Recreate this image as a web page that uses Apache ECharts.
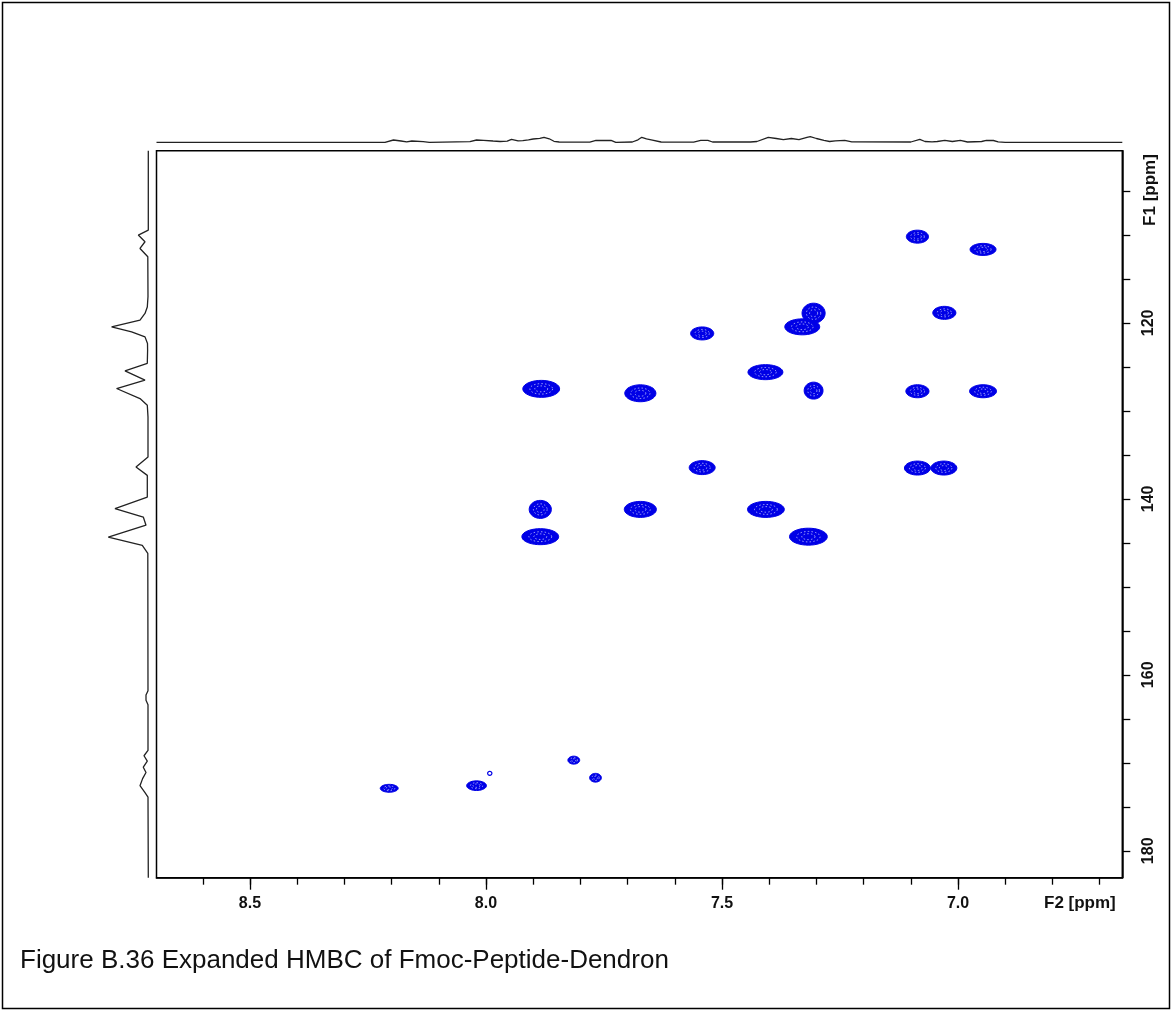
<!DOCTYPE html>
<html>
<head>
<meta charset="utf-8">
<title>Expanded HMBC of Fmoc-Peptide-Dendron</title>
<script src="https://cdn.jsdelivr.net/npm/echarts@6/dist/echarts.min.js"></script>
<style>
  html, body { margin: 0; padding: 0; background: #fff; }
  #chart { width: 1173px; height: 1012px; }
</style>
</head>
<body>
<div id="chart"></div>
<script>
// F2 (1H) axis ticks and labels, ppm
const f2Ticks = [6.7, 6.8, 6.9, 7.0, 7.1, 7.2, 7.3, 7.4, 7.5, 7.6, 7.7, 7.8, 7.9, 8.0, 8.1, 8.2, 8.3, 8.4, 8.5, 8.6];
const f2Labels = [7.0, 7.5, 8.0, 8.5];
// F1 (13C) axis ticks and labels, ppm
const f1Ticks = [105, 110, 115, 120, 125, 130, 135, 140, 145, 150, 155, 160, 165, 170, 175, 180];
const f1Labels = [120, 140, 160, 180];
const f2Range = [6.652, 8.698];
const f1Range = [100.43, 183.06];

// HMBC cross peaks: F2 shift, F1 shift, line width in F2 and F1 (ppm)
const peakF2 = [7.542, 7.306, 7.330, 7.408, 7.883, 7.673, 7.306, 7.542, 7.885, 7.673, 7.407, 7.885, 7.317,
                7.086, 6.947, 7.029, 7.086, 6.947, 7.086, 7.030, 7.814, 7.768, 7.992, 8.205, 8.020];
const peakF1 = [121.2, 118.9, 120.45, 125.6, 127.5, 128.0, 127.7, 136.45, 141.2, 141.2, 141.2, 144.3, 144.3,
                110.2, 111.65, 118.86, 127.77, 127.77, 136.5, 136.5, 169.7, 171.7, 171.2, 172.9, 172.6];
const peakWidthF2 = [0.049, 0.049, 0.074, 0.074, 0.078, 0.066, 0.040, 0.055, 0.047, 0.068, 0.078, 0.078, 0.080,
                     0.047, 0.055, 0.049, 0.049, 0.057, 0.055, 0.055, 0.025, 0.025, 0.009, 0.038, 0.042];
const peakWidthF1 = [1.48, 2.28, 1.82, 1.71, 1.93, 1.93, 1.93, 1.59, 2.05, 1.82, 1.82, 1.82, 1.93,
                     1.48, 1.37, 1.48, 1.48, 1.48, 1.59, 1.59, 0.91, 1.0, 0.45, 0.9, 1.1];

// 1D projection along F2 (top trace): shift, intensity
const projF2ppm = [8.698, 8.214, 8.196, 8.18, 8.168, 8.157, 8.133, 8.12, 8.034, 8.02, 8.005, 7.985, 7.97, 7.955, 7.946,
                   7.932, 7.922, 7.91, 7.90, 7.886, 7.877, 7.866, 7.856, 7.845, 7.78, 7.767, 7.75, 7.735, 7.725, 7.69,
                   7.678, 7.67, 7.66, 7.65, 7.629, 7.56, 7.545, 7.53, 7.52, 7.44, 7.426, 7.402, 7.385, 7.37, 7.353,
                   7.337, 7.32, 7.313, 7.30, 7.284, 7.272, 7.26, 7.24, 7.225, 7.10, 7.081, 7.07, 7.055, 7.044, 7.028,
                   7.012, 6.995, 6.98, 6.95, 6.94, 6.925, 6.915, 6.9, 6.652];
const projF2int = [0, 0, 2.3, 1.3, 0.5, 1.3, 0.7, 0, 0.7, 2.3, 2, 1.3, 0.8, 1.2, 3,
                   1.5, 1.7, 2.5, 3.3, 4, 5, 3.5, 1, 0.3, 0.2, 2, 1.8, 2, 0, 0.3,
                   2.5, 5, 3.5, 2.5, 0.3, 0.2, 2, 2, 0.3, 0.3, 0.8, 5, 3.8, 2.7, 3.8,
                   2.7, 5, 5.7, 3.8, 1.9, 0.8, 1.5, 2, 0.5, 0.3, 3, 0.8, 0.5, 0.8, 2,
                   0.8, 2, 0.3, 0.8, 2, 1.8, 0.5, 0, 0];

// 1D projection along F1 (left trace): shift, intensity
const projF1ppm = [100.43, 109.45, 110.02, 110.78, 111.54, 112.49, 117.0, 118.2, 118.93, 119.69, 120.46, 121.02, 121.59,
                   122.34, 123.1, 124.6, 125.46, 126.5, 127.46, 128.6, 129.36, 130.7, 135.24, 136.38, 137.33, 139.8,
                   141.1, 142.07, 143.0, 144.35, 145.3, 146.2, 161.8, 162.3, 162.9, 163.4, 168.6, 169.2, 169.8, 170.5,
                   171.1, 171.8, 172.6, 173.4, 173.9, 183.06];
const projF1int = [0, 0, 10, 3.3, 8.3, 0.5, 0.3, 1, 3.3, 8.3, 36.7, 16.7, 3.3,
                   0.8, 0.7, 1, 23.3, 3.3, 31.7, 8.3, 1, 0.3, 0.3, 12.3, 1, 1,
                   33.3, 5, 2.3, 40, 6, 0.5, 0.3, 2.3, 2.3, 0.3, 0.3, 4.3, 1, 5,
                   2.3, 5.7, 8.3, 3.3, 0.3, 0];

const FONT = '"Liberation Sans", Arial, Helvetica, sans-serif';
const INK = '#111';
const PEAK_BLUE = '#0000e6';

const peakData = peakF2.map((x, i) => [x, peakF1[i], peakWidthF2[i], peakWidthF1[i]]);
const topTrace = projF2ppm.map((x, i) => [x, projF2int[i]]);
const leftTrace = projF1ppm.map((y, i) => [projF1int[i], y]);

// closed ellipse outline as a point list
function ellipsePoints(cx, cy, rx, ry, n) {
  const pts = [];
  for (let k = 0; k < n; k++) {
    const a = (k / n) * Math.PI * 2;
    pts.push([cx + rx * Math.cos(a), cy + ry * Math.sin(a)]);
  }
  return pts;
}

// one contour blob: filled outer level with lighter inner contour levels
function renderPeak(params, api) {
  const c = api.coord([api.value(0), api.value(1)]);
  const s = api.size([api.value(2), api.value(3)]);
  const rx = Math.abs(s[0]) / 2, ry = Math.abs(s[1]) / 2;
  if (rx < 3) {
    return {
      type: 'polygon',
      shape: { points: ellipsePoints(c[0], c[1], rx, ry, 16) },
      style: { fill: 'none', stroke: PEAK_BLUE, lineWidth: 1.2 }
    };
  }
  const children = [{
    type: 'polygon',
    shape: { points: ellipsePoints(c[0], c[1], rx, ry, 40) },
    style: { fill: PEAK_BLUE, stroke: PEAK_BLUE, lineWidth: 1 }
  }];
  [0.62, 0.35].forEach(k => {
    children.push({
      type: 'polygon',
      shape: { points: ellipsePoints(c[0], c[1], rx * k, ry * k, 28) },
      style: { fill: 'none', stroke: '#dfe3ff', lineWidth: 0.8, lineDash: [1.5, 2.2], opacity: 0.85 }
    });
  });
  return { type: 'group', children };
}

const chart = echarts.init(document.getElementById('chart'), null, { renderer: 'canvas' });

const tickLabelStyle = { color: INK, fontFamily: FONT, fontWeight: 'bold', fontSize: 16 };

chart.setOption({
  backgroundColor: '#fff',
  animation: false,
  grid: [
    { left: 156.5, right: 50.7, top: 150.7, bottom: 134.3, show: true, borderColor: '#000', borderWidth: 1.5, backgroundColor: 'transparent' },
    { left: 156.5, right: 50.7, top: 120, height: 22.3 },
    { left: 100, width: 48.3, top: 150.7, bottom: 134.3 }
  ],
  xAxis: [
    {
      gridIndex: 0, type: 'value', min: f2Range[0], max: f2Range[1], inverse: true,
      axisLine: { show: true, onZero: false, lineStyle: { color: '#000', width: 1.5 } },
      axisTick: { show: true, length: 7, customValues: f2Ticks, lineStyle: { color: '#000', width: 1.3 } },
      axisLabel: { show: false },
      splitLine: { show: false }
    },
    {
      gridIndex: 0, type: 'value', min: f2Range[0], max: f2Range[1], inverse: true, position: 'bottom',
      axisLine: { show: false },
      axisTick: { show: true, length: 12, customValues: f2Labels, lineStyle: { color: '#000', width: 1.3 } },
      axisLabel: Object.assign({ show: true, margin: 18, customValues: f2Labels, formatter: v => v.toFixed(1) }, tickLabelStyle),
      splitLine: { show: false }
    },
    {
      gridIndex: 1, type: 'value', min: f2Range[0], max: f2Range[1], inverse: true, show: false
    },
    {
      gridIndex: 2, type: 'value', min: 0, max: 48.3, inverse: true, show: false
    }
  ],
  yAxis: [
    {
      gridIndex: 0, type: 'value', min: f1Range[0], max: f1Range[1], inverse: true, position: 'right',
      axisLine: { show: true, onZero: false, lineStyle: { color: '#000', width: 1.5 } },
      axisTick: { show: true, length: 8, customValues: f1Ticks, lineStyle: { color: '#000', width: 1.3 } },
      axisLabel: Object.assign({ show: true, margin: 18, rotate: 90, customValues: f1Labels }, tickLabelStyle),
      splitLine: { show: false }
    },
    { gridIndex: 1, type: 'value', min: 0, max: 22.3, show: false },
    { gridIndex: 2, type: 'value', min: f1Range[0], max: f1Range[1], inverse: true, show: false }
  ],
  series: [
    {
      name: 'HMBC', type: 'custom', xAxisIndex: 0, yAxisIndex: 0,
      renderItem: renderPeak, data: peakData, encode: { x: 0, y: 1 }, silent: true
    },
    {
      name: 'F2 projection', type: 'line', xAxisIndex: 2, yAxisIndex: 1, data: topTrace,
      showSymbol: false, smooth: false, lineStyle: { color: '#222', width: 1.3 }, silent: true
    },
    {
      name: 'F1 projection', type: 'line', xAxisIndex: 3, yAxisIndex: 2, data: leftTrace,
      showSymbol: false, smooth: false, lineStyle: { color: '#222', width: 1.3 }, silent: true
    }
  ],
  graphic: [
    {
      type: 'rect', silent: true,
      shape: { x: 2.5, y: 2.5, width: 1167, height: 1006 },
      style: { fill: 'none', stroke: '#000', lineWidth: 1.5 }
    },
    {
      type: 'text', left: 1044, top: 895, silent: true,
      style: { text: 'F2 [ppm]', fill: INK, font: 'bold 17px ' + FONT }
    },
    {
      type: 'text', x: 1150, y: 190, rotation: Math.PI / 2, silent: true,
      style: { text: 'F1 [ppm]', fill: INK, font: 'bold 17px ' + FONT, align: 'center', verticalAlign: 'middle' }
    },
    {
      type: 'text', left: 20, top: 948, silent: true,
      style: { text: 'Figure B.36 Expanded HMBC of Fmoc-Peptide-Dendron', fill: INK, font: '26px ' + FONT }
    }
  ]
});
</script>
</body>
</html>
